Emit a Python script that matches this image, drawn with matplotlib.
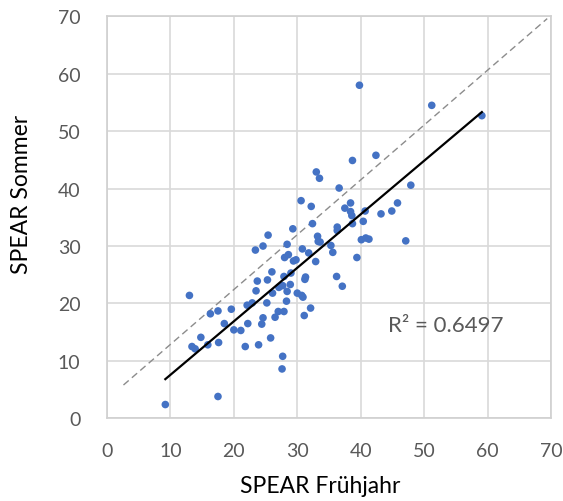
import numpy as np
import matplotlib.pyplot as plt

# SPEAR Frühjahr (x) und SPEAR Sommer (y) je Probestelle
fruehjahr = [39.8, 51.2, 59.1, 42.4, 38.7, 33.0, 33.5, 36.6, 47.9,
             30.6, 32.2, 38.4, 37.5, 38.4, 38.6, 40.7, 43.2, 44.9, 45.8,
             32.4, 29.3, 25.4, 36.3, 36.3, 38.7, 40.4,
             33.2, 33.3, 33.6, 35.3, 35.6, 40.1, 40.8, 41.3, 47.1,
             24.6, 23.4, 28.4, 30.8, 31.8, 28.6, 28.0, 29.8, 29.4, 32.9, 39.4,
             26.0, 29.0, 27.9, 31.3, 31.2, 25.3, 23.7, 36.2, 37.1,
             28.9, 27.7, 27.1, 23.5, 26.1, 28.4, 30.0, 30.7, 30.9,
             13.0, 28.3, 25.2, 22.9, 22.1, 19.6, 17.5, 16.3, 32.1,
             27.0, 27.9, 26.5, 24.6, 31.1, 24.4, 22.2, 18.5,
             20.0, 21.1, 14.8, 13.4, 13.9, 15.9, 17.6, 21.8, 23.9, 25.8,
             27.7, 27.6, 17.5, 9.2]
sommer = [58.0, 54.5, 52.7, 45.8, 44.9, 42.9, 41.8, 40.1, 40.6,
          37.9, 36.9, 37.5, 36.6, 36.0, 35.3, 36.1, 35.6, 36.1, 37.5,
          33.9, 33.0, 31.9, 33.3, 32.7, 33.9, 34.3,
          31.7, 30.8, 30.7, 30.1, 28.9, 31.1, 31.4, 31.2, 30.9,
          30.0, 29.3, 30.3, 29.5, 28.8, 28.5, 28.0, 27.6, 27.4, 27.3, 28.0,
          25.5, 25.3, 24.7, 24.6, 24.2, 24.1, 23.9, 24.7, 23.0,
          23.3, 23.1, 22.8, 22.2, 21.8, 22.1, 21.8, 21.4, 21.1,
          21.4, 20.4, 20.1, 20.1, 19.7, 19.0, 18.7, 18.2, 19.2,
          18.6, 18.6, 17.6, 17.5, 17.9, 16.4, 16.5, 16.5,
          15.4, 15.3, 14.1, 12.5, 12.1, 12.8, 13.2, 12.5, 12.8, 14.0,
          10.8, 8.6, 3.8, 2.4]

# Hilfslinie (gestrichelt)
ref_x = [2.6, 69.4]
ref_y = [5.8, 69.6]

r2_text = 'R² = 0.6497'
ticks = [0, 10, 20, 30, 40, 50, 60, 70]

x = np.array(fruehjahr)
y = np.array(sommer)

plt.rcParams['font.family'] = ['Lato', 'DejaVu Sans']

fig = plt.figure(figsize=(5.63, 5.02), dpi=100)
ax = fig.add_axes([0.190, 0.1647, 0.7887, 0.8008])

ax.plot(ref_x, ref_y, color='#8c8c8c', lw=1.0, dashes=(5, 3), zorder=2)
ax.scatter(x, y, s=30, color='#4472C4', edgecolors='none', zorder=3)

# lineare Trendlinie
k, d = np.polyfit(x, y, 1)
xt = np.array([x.min(), x.max()])
ax.plot(xt, k * xt + d, color='black', lw=1.6, zorder=4)

ax.text(44.3, 16.3, r2_text, fontsize=16, color='#595959', va='center', ha='left')

ax.set_xlim(0, 70)
ax.set_ylim(0, 70)
ax.set_xticks(ticks)
ax.set_yticks(ticks)
ax.grid(True, color='#d9d9d9', lw=1.2)
ax.set_axisbelow(True)
for s in ax.spines.values():
    s.set_color('#d0d0d0')
    s.set_linewidth(1.2)
ax.tick_params(length=0, labelsize=14, labelcolor='#595959')
ax.tick_params(axis='x', pad=17)
ax.tick_params(axis='y', pad=19)

ax.set_xlabel('SPEAR Frühjahr', fontsize=16.5, color='black')
ax.set_ylabel('SPEAR Sommer', fontsize=16.5, color='black')
ax.xaxis.set_label_coords(0.48, -0.142)
ax.yaxis.set_label_coords(-0.168, 0.56)

fig.savefig('out.png', dpi=100)
